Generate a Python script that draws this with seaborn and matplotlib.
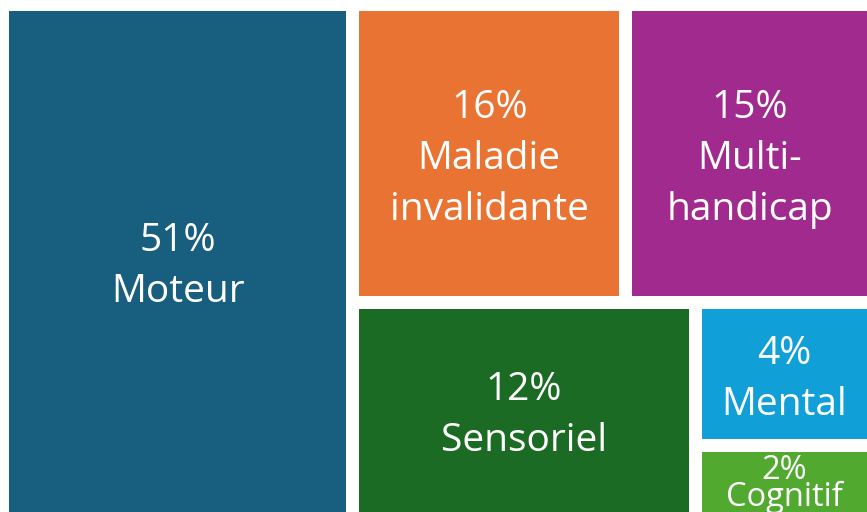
import matplotlib
matplotlib.use("Agg")
import matplotlib.pyplot as plt
from matplotlib.patches import Rectangle
import seaborn as sns

# Data: categories, displayed shares, and the tile areas
categories = ["Moteur", "Maladie\ninvalidante", "Multi-\nhandicap", "Sensoriel", "Mental", "Cognitif"]
shares = [51, 16, 15, 12, 4, 2]
tile_sizes = [40.2, 18.2, 16.5, 16.5, 5.7, 2.9]
colors = ["#185e7e", "#e97333", "#a02a8e", "#1c6b24", "#109fd6", "#52a930"]

# tile arrangement: 'h' splits side by side, 'v' stacks
tree = ("h", [0, ("v", [("h", [1, 2]), ("h", [3, ("v", [4, 5])])])])

def node_size(node):
    if isinstance(node, int):
        return tile_sizes[node]
    return sum(node_size(c) for c in node[1])

def layout(node, x, y, w, h, out):
    if isinstance(node, int):
        out[node] = (x, y, w, h)
        return
    direction, children = node
    total = node_size(node)
    for c in children:
        frac = node_size(c) / total
        if direction == "h":
            layout(c, x, y, w * frac, h, out)
            x += w * frac
        else:
            layout(c, x, y, w, h * frac, out)
            y += h * frac

sns.set_theme(style="white")
plt.rcParams['font.family'] = ['Open Sans', 'DejaVu Sans']

fig = plt.figure(figsize=(8.67, 5.12), dpi=100)
ax = fig.add_axes([0, 0, 1, 1])
ax.set_xlim(0, 867)
ax.set_ylim(512, 0)
ax.axis("off")

gap = 6.5
rects = {}
layout(tree, 2.5, 4.5, 871, 514, rects)

for i, (x, y, w, h) in rects.items():
    ax.add_patch(Rectangle((x + gap, y + gap), w - 2 * gap, h - 2 * gap,
                           facecolor=colors[i], edgecolor="none"))
    small = tile_sizes[i] < 4
    ax.text(x + w / 2, y + h / 2 + (2 if small else 5), f"{shares[i]}%\n{categories[i]}",
            ha="center", va="center", multialignment="center", color="white",
            fontsize=23.5 if small else 28, linespacing=0.74 if small else 1.45)

fig.savefig("out.png", dpi=100)
